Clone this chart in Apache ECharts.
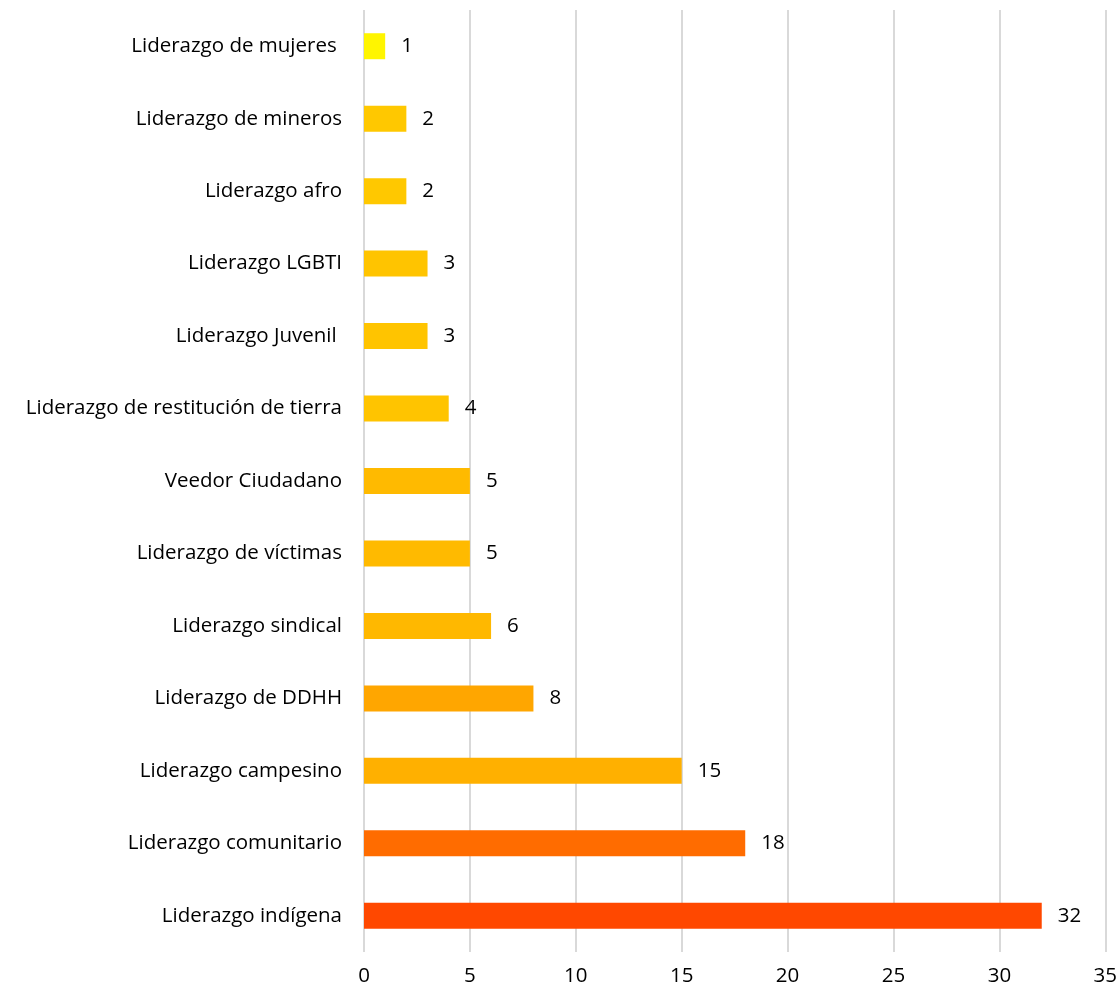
<!DOCTYPE html>
<html><head><meta charset="utf-8">
<script src="https://cdn.jsdelivr.net/npm/echarts@6/dist/echarts.min.js"></script>
<style>html,body{margin:0;padding:0;background:#fff}#c{width:1120px;height:997px}</style>
</head><body><div id="c"></div>
<script>
const categories = ["Liderazgo de mujeres ", "Liderazgo de mineros", "Liderazgo afro", "Liderazgo LGBTI", "Liderazgo Juvenil ", "Liderazgo de restitución de tierra", "Veedor Ciudadano", "Liderazgo de víctimas", "Liderazgo sindical", "Liderazgo de DDHH", "Liderazgo campesino", "Liderazgo comunitario", "Liderazgo indígena"];
const values = [1, 2, 2, 3, 3, 4, 5, 5, 6, 8, 15, 18, 32];
const barColors = ["#FFF500", "#FFC800", "#FFC800", "#FFC400", "#FFC400", "#FFC400", "#FFBA00", "#FFBA00", "#FFB800", "#FFA600", "#FFB000", "#FF6C00", "#FF4800"];
const xTicks = [0, 5, 10, 15, 20, 25, 30, 35];
const font = "Open Sans";
const fs = 20.5;
const chart = echarts.init(document.getElementById('c'));
chart.setOption({
  animation: false,
  grid: {left: 364, right: 14, top: 10, bottom: 45, containLabel: false},
  xAxis: {type: 'value', min: xTicks[0], max: xTicks[xTicks.length-1], interval: 5,
    axisLine: {show: false}, axisTick: {show: false},
    splitLine: {lineStyle: {color: '#d9d9d9', width: 2}},
    axisLabel: {color: '#000', fontSize: fs, fontFamily: font, margin: 14}},
  yAxis: {type: 'category', data: categories, inverse: true,
    axisLine: {show: false}, axisTick: {show: false},
    axisLabel: {color: '#000', fontSize: fs, fontFamily: font, margin: 22}},
  series: [{type: 'bar', barWidth: 26,
    data: values.map((v, i) => ({value: v, itemStyle: {color: barColors[i]}})),
    label: {show: true, position: 'right', distance: 16, color: '#000', fontSize: fs, fontFamily: font}}]
});
</script></body></html>
